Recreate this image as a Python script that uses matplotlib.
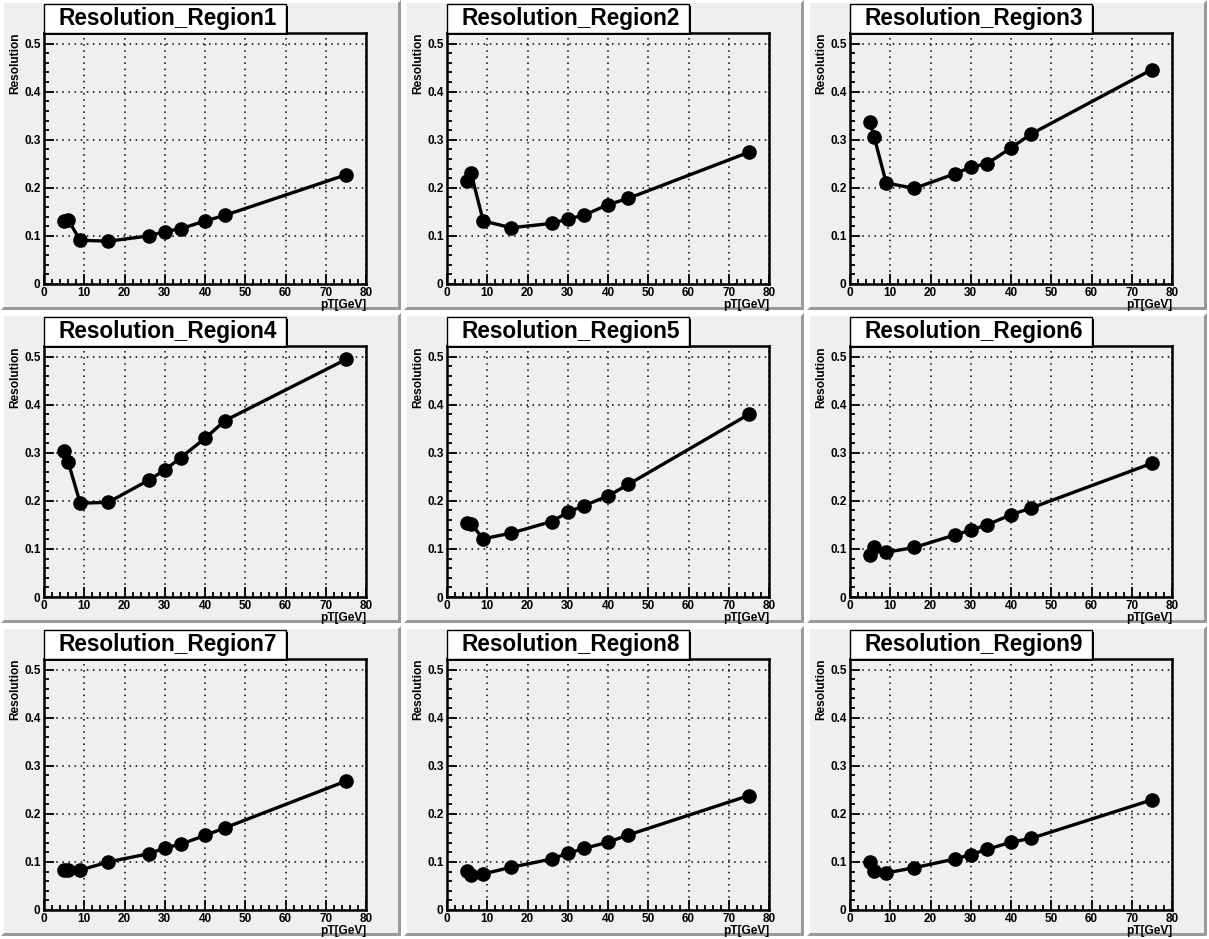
import matplotlib
matplotlib.use("Agg")
import matplotlib.pyplot as plt
from matplotlib.patches import Rectangle, Polygon
from matplotlib.ticker import MultipleLocator
import numpy as np

pt = [5, 6, 9, 16, 26, 30, 34, 40, 45, 75]
titles = ["Resolution_Region%d" % i for i in range(1, 10)]
region1 = [0.131, 0.133, 0.091, 0.089, 0.100, 0.109, 0.115, 0.131, 0.143, 0.227]
region2 = [0.215, 0.230, 0.131, 0.117, 0.126, 0.135, 0.143, 0.165, 0.178, 0.274]
region3 = [0.336, 0.306, 0.210, 0.199, 0.229, 0.243, 0.250, 0.283, 0.312, 0.446]
region4 = [0.304, 0.281, 0.195, 0.197, 0.243, 0.264, 0.290, 0.330, 0.367, 0.494]
region5 = [0.153, 0.152, 0.121, 0.133, 0.157, 0.176, 0.190, 0.210, 0.234, 0.380]
region6 = [0.087, 0.105, 0.093, 0.103, 0.129, 0.139, 0.150, 0.171, 0.185, 0.278]
region7 = [0.084, 0.083, 0.083, 0.100, 0.117, 0.129, 0.137, 0.155, 0.171, 0.268]
region8 = [0.081, 0.073, 0.075, 0.089, 0.106, 0.118, 0.128, 0.141, 0.156, 0.238]
region9 = [0.099, 0.081, 0.077, 0.088, 0.106, 0.115, 0.126, 0.141, 0.149, 0.229]
regions = [region1, region2, region3, region4, region5, region6, region7, region8, region9]
xlabel = "pT[GeV]"
ylabel = "Resolution"

W, H = 1209, 939
fig = plt.figure(figsize=(W / 100, H / 100), dpi=100, facecolor="white")
FONT = "Liberation Sans"
PADW, PADH = 403, 313
PADBG = "#efefef"
BEVEL = 3


def fx(px):
    return px / W


def fy(py):
    return 1 - py / H


def poly(pts, color):
    fig.patches.append(Polygon([(fx(a), fy(b)) for a, b in pts], closed=True,
                               transform=fig.transFigure, facecolor=color,
                               edgecolor="none", zorder=-10))


for i in range(9):
    r, c = divmod(i, 3)
    x0 = c * PADW + 1
    y0 = r * PADH
    x1 = x0 + PADW - 3
    y1 = y0 + PADH - 3
    b = BEVEL
    poly([(x0, y0), (x1, y0), (x1 - b, y0 + b), (x0 + b, y0 + b), (x0 + b, y1 - b), (x0, y1)], "#ffffff")
    poly([(x1, y1), (x0, y1), (x0 + b, y1 - b), (x1 - b, y1 - b), (x1 - b, y0 + b), (x1, y0)], "#9a9a9a")
    poly([(x0 + b, y0 + b), (x1 - b, y0 + b), (x1 - b, y1 - b), (x0 + b, y1 - b)], PADBG)

    fl, fr = x0 - 1 + 44, x0 - 1 + 366
    ft, fb = y0 + 33, y0 + 284
    ax = fig.add_axes([fx(fl), fy(fb), fx(fr) - fx(fl), fy(ft) - fy(fb)])
    ax.set_facecolor(PADBG)
    ax.set_xlim(0, 80)
    ax.set_ylim(0, 0.522)
    ax.xaxis.set_major_locator(MultipleLocator(10))
    ax.xaxis.set_minor_locator(MultipleLocator(2))
    ax.yaxis.set_major_locator(MultipleLocator(0.1))
    ax.yaxis.set_minor_locator(MultipleLocator(0.02))
    ax.grid(True, which="major", color="black", linestyle=(0, (1, 3)), linewidth=1.1)
    ax.set_axisbelow(True)
    for s in ax.spines.values():
        s.set_linewidth(1.8)
    ax.tick_params(which="both", direction="in", top=False, right=False, width=1.3, pad=2.5)
    ax.tick_params(which="major", length=7)
    ax.tick_params(which="minor", length=3.5)
    ax.set_xticks([0, 10, 20, 30, 40, 50, 60, 70, 80])
    ax.set_xticklabels(["0", "10", "20", "30", "40", "50", "60", "70", "80"])
    ax.set_yticks([0, 0.1, 0.2, 0.3, 0.4, 0.5])
    ax.set_yticklabels(["0", "0.1", "0.2", "0.3", "0.4", "0.5"])
    for lab in ax.get_xticklabels() + ax.get_yticklabels():
        lab.set_fontfamily(FONT)
        lab.set_fontweight("bold")
        lab.set_fontsize(8.5)
    ax.plot(pt, regions[i], color="black", linewidth=2.4, marker="o", markersize=9.5,
            zorder=3, clip_on=False)
    ax.text(1.0, -0.058, xlabel, transform=ax.transAxes, ha="right", va="top",
            fontfamily=FONT, fontweight="bold", fontsize=8.6)
    ax.text(-0.09, 1.0, ylabel, transform=ax.transAxes, ha="center", va="top",
            rotation=90, fontfamily=FONT, fontweight="bold", fontsize=8.6)

    tl, tr = x0 - 1 + 44, x0 - 1 + 286
    tt, tb = y0 + 4, y0 + 33
    fig.patches.append(Rectangle((fx(tl + 2), fy(tb + 2)), fx(tr) - fx(tl), fy(tt) - fy(tb),
                                 transform=fig.transFigure, facecolor="black",
                                 edgecolor="none", zorder=5))
    fig.patches.append(Rectangle((fx(tl), fy(tb)), fx(tr) - fx(tl), fy(tt) - fy(tb),
                                 transform=fig.transFigure, facecolor="white",
                                 edgecolor="black", linewidth=1.0, zorder=6))
    fig.text(fx((tl + tr) / 2 + 3), fy((tt + tb) / 2), titles[i], ha="center", va="center",
             fontfamily=FONT, fontweight="bold", fontsize=16.3, zorder=7)

fig.savefig("out.png", dpi=100, facecolor="white")
